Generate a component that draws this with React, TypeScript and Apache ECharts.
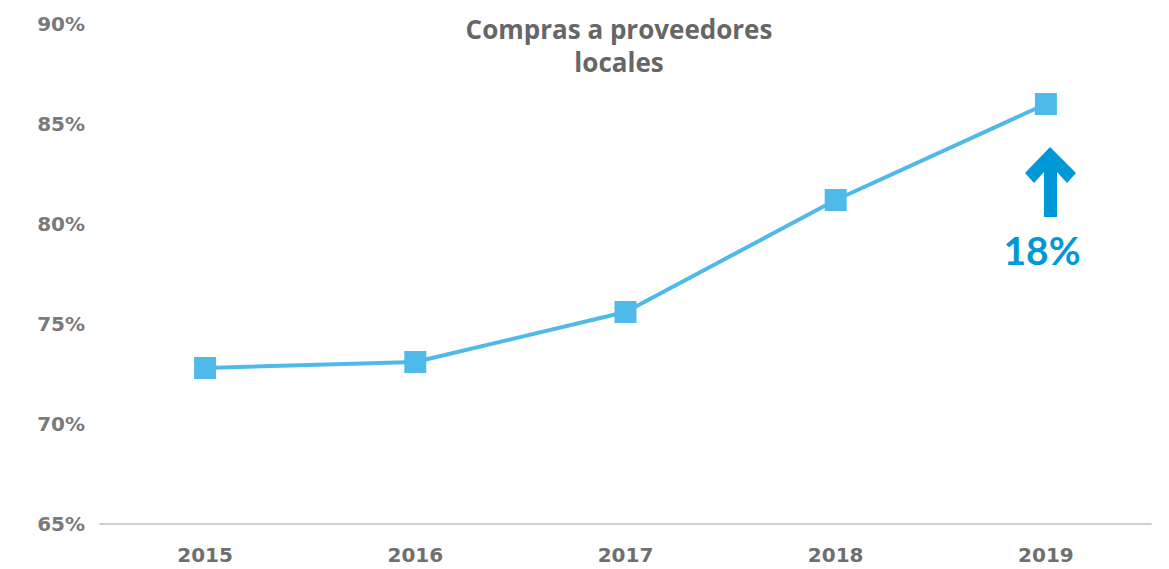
import React, { useEffect, useRef } from "react";
import * as echarts from "echarts";

const years = ["2015", "2016", "2017", "2018", "2019"];
const values = [72.8, 73.1, 75.6, 81.2, 86.0];
const yMin = 65;
const yMax = 90;
const yStep = 5;
const titleLines = ["Compras a proveedores", "locales"];
const growthLabel = "18%";

export default function App() {
  const ref = useRef<HTMLDivElement>(null);
  useEffect(() => {
    if (!ref.current) return;
    const chart = echarts.init(ref.current, undefined, { renderer: "svg" });
    chart.setOption({
      animation: false,
      backgroundColor: "#ffffff",
      grid: { left: 100, right: 18, top: 24, bottom: 45 },
      xAxis: {
        type: "category",
        data: years,
        boundaryGap: true,
        axisLine: { lineStyle: { color: "#cfcfcf", width: 2 } },
        axisTick: { show: false },
        axisLabel: {
          color: "#6f6f6f",
          fontFamily: "DejaVu Sans",
          fontWeight: "bold",
          fontSize: 20,
          margin: 21,
        },
      },
      yAxis: {
        type: "value",
        min: yMin,
        max: yMax,
        interval: yStep,
        axisLine: { show: false },
        axisTick: { show: false },
        splitLine: { show: false },
        axisLabel: {
          color: "#7a7a7a",
          fontFamily: "DejaVu Sans",
          fontWeight: "bold",
          fontSize: 20,
          margin: 15,
          formatter: (v: number) => `${v}%`,
        },
      },
      graphic: [
        {
          type: "text",
          x: 619,
          y: 12,
          style: {
            text: titleLines.join("\n"),
            align: "center",
            fill: "#666666",
            font: "bold 26px 'Open Sans'",
            lineHeight: 33,
          },
        },
        {
          type: "polygon",
          shape: {
            points: [
              [1050, 147],
              [1076, 173],
              [1067, 183],
              [1057, 172],
              [1057, 217],
              [1044, 217],
              [1044, 172],
              [1034, 183],
              [1025, 173],
            ],
          },
          style: { fill: "#0098d6" },
        },
        {
          type: "text",
          x: 1042,
          y: 250,
          style: {
            text: growthLabel,
            fill: "#0098d6",
            font: "bold 39px Lato",
            align: "center",
            verticalAlign: "middle",
          },
        },
      ],
      series: [
        {
          type: "line",
          data: values,
          symbol: "rect",
          symbolSize: 22,
          lineStyle: { color: "#4fb9ea", width: 4 },
          itemStyle: { color: "#4fb9ea" },
        },
      ],
    });
    return () => chart.dispose();
  }, []);
  return (
    <div
      ref={ref}
      style={{ position: "fixed", left: 0, top: 0, width: 1169, height: 569 }}
    />
  );
}
